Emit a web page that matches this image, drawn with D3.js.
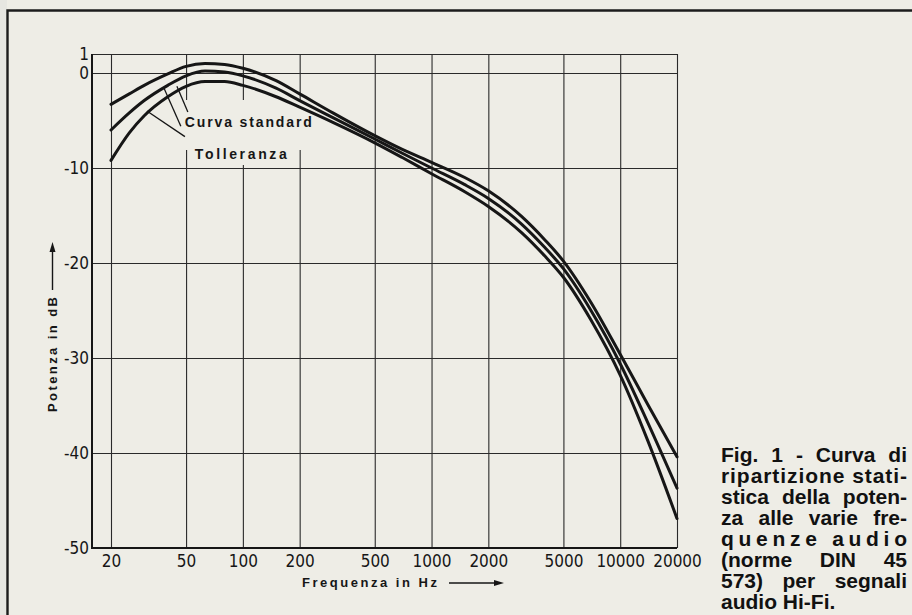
<!DOCTYPE html>
<html>
<head>
<meta charset="utf-8">
<script src="https://cdn.jsdelivr.net/npm/d3@7"></script>
<style>
  html, body { margin: 0; padding: 0; background: #eeede6; }
  svg { display: block; }
</style>
</head>
<body>
<svg id="chart" width="912" height="615"></svg>
<script>
// Frequency points (Hz) at which the three curves are sampled
const freqs = [20, 25, 30, 40, 50, 63, 80, 100, 150, 200, 300, 500, 700, 1000, 1500, 2000, 3000, 4000, 5000, 7000, 10000, 14000, 20000];

// Upper tolerance limit (dB)
const upperTol = [-3.3, -2.2, -1.3, -0.1, 0.7, 1.0, 0.9, 0.5, -0.8, -2.2, -4.2, -6.6, -8.05, -9.4, -11.0, -12.4, -15.1, -17.6, -19.8, -24.15, -29.6, -34.9, -40.4];
// Standard curve (dB)
const standard = [-6.0, -4.2, -2.9, -1.3, -0.3, 0.2, 0.1, -0.3, -1.6, -2.9, -4.7, -6.95, -8.45, -10.0, -11.75, -13.2, -15.9, -18.4, -20.6, -25.0, -30.6, -36.8, -43.7];
// Lower tolerance limit (dB)
const lowerTol = [-9.2, -6.3, -4.5, -2.5, -1.4, -0.9, -0.9, -1.3, -2.5, -3.6, -5.2, -7.35, -8.9, -10.6, -12.5, -14.05, -16.8, -19.3, -21.5, -26.0, -31.8, -38.7, -46.9];

// Axis ticks
const xTickValues = [20, 50, 100, 200, 500, 1000, 2000, 5000, 10000, 20000];
const xTickLabels = ["20", "50", "100", "200", "500", "1000", "2000", "5000", "10000", "20000"];
const yTickValues = [2, 0, -10, -20, -30, -40, -50];
const yTickLabels = ["1", "0", "-10", "-20", "-30", "-40", "-50"];

// Annotation labels: anchor (Hz, dB) and leader lines ending on the curves
const annoLabels = [
  { text: "Curva standard", f: 49.2, v: -5.7, width: 127 },
  { text: "Tolleranza", f: 55.6, v: -9.05, width: 92 }
];
const leaders = [
  { f1: 51.1, v1: -4.1, f2: 44.7, v2: -1.4 },
  { f1: 46.9, v1: -5.6, f2: 38.2, v2: -1.6 },
  { f1: 49.3, v1: -6.7, f2: 31.0, v2: -4.0 }
];

// Caption text, one entry per printed line
const captionLines = [
  "Fig. 1 - Curva di",
  "ripartizione stati-",
  "stica della poten-",
  "za alle varie fre-",
  "quenze audio",
  "(norme DIN 45",
  "573) per segnali",
  "audio Hi-Fi."
];

const ink = "#161616";
const paper = "#eeede6";
const svg = d3.select("#chart");

// Layout
const plotLeft = 92, plotRight = 677, plotTop = 54, plotBottom = 548;

const x = d3.scaleLog().domain([20, 20000]).range([111, plotRight]);
const y = d3.scaleLinear().domain([-50, 2]).range([plotBottom, plotTop]);

// Paper background
svg.append("rect").attr("width", 912).attr("height", 615).attr("fill", paper);
svg.append("rect").attr("x", 0).attr("y", 0).attr("width", 7).attr("height", 615).attr("fill", "#e6e6e1");

// Page frame (top and left rule)
svg.append("path")
  .attr("d", "M7.5,615 V10.5 H912")
  .attr("fill", "none").attr("stroke", "#1c1c1c").attr("stroke-width", 2.4);

const tickFont = sel => sel
  .attr("fill", ink)
  .style("font-family", "'Liberation Sans Narrow', 'DejaVu Sans Condensed', sans-serif")
  .style("font-size", "17px");

// Vertical grid + x tick labels
const xAxis = d3.axisBottom(x)
  .tickValues(xTickValues)
  .tickSize(-(plotBottom - plotTop))
  .tickPadding(7)
  .tickFormat((d, i) => xTickLabels[i]);
const gx = svg.append("g").attr("transform", `translate(0,${plotBottom})`).call(xAxis);
gx.select(".domain").remove();
gx.selectAll(".tick line").attr("stroke", "#2a2a2a").attr("stroke-width", 1.1);
gx.selectAll(".tick text").call(tickFont);

// Horizontal grid + y tick labels
const yAxis = d3.axisLeft(y)
  .tickValues(yTickValues)
  .tickSize(-(plotRight - plotLeft))
  .tickPadding(3)
  .tickFormat((d, i) => yTickLabels[i]);
const gy = svg.append("g").attr("transform", `translate(${plotLeft},0)`).call(yAxis);
gy.select(".domain").remove();
gy.selectAll(".tick line").attr("stroke", "#2a2a2a").attr("stroke-width", 1.1);
gy.selectAll(".tick text").call(tickFont);

// Heavier left and bottom axis lines
svg.append("path")
  .attr("d", `M${plotLeft},${plotTop} V${plotBottom} H${plotRight}`)
  .attr("fill", "none").attr("stroke", ink).attr("stroke-width", 2);

// Clear space behind the annotation labels
svg.append("rect").attr("x", 180).attr("y", 100).attr("width", 138).attr("height", 50).attr("fill", paper);
svg.append("rect").attr("x", 190).attr("y", 148).attr("width", 105).attr("height", 17).attr("fill", paper);

// Curves
const line = d3.line()
  .x(d => x(d.f))
  .y(d => y(d.v))
  .curve(d3.curveMonotoneX);

[upperTol, standard, lowerTol].forEach(series => {
  const pts = freqs.map((f, i) => ({ f, v: series[i] }));
  svg.append("path")
    .attr("d", line(pts))
    .attr("fill", "none")
    .attr("stroke", ink)
    .attr("stroke-width", 3)
    .attr("stroke-linecap", "round")
    .attr("stroke-linejoin", "round");
});

// Leader lines and labels
leaders.forEach(l => {
  svg.append("line")
    .attr("x1", x(l.f1)).attr("y1", y(l.v1))
    .attr("x2", x(l.f2)).attr("y2", y(l.v2))
    .attr("stroke", ink).attr("stroke-width", 1.3);
});
annoLabels.forEach(a => {
  svg.append("text")
    .attr("x", x(a.f)).attr("y", y(a.v))
    .attr("textLength", a.width)
    .attr("lengthAdjust", "spacing")
    .attr("fill", ink)
    .style("font-family", "'Liberation Sans', Arial, sans-serif")
    .style("font-weight", "bold")
    .style("font-size", "14px")
    .text(a.text);
});

// Axis titles with arrows
const titleStyle = sel => sel
  .attr("fill", ink)
  .attr("lengthAdjust", "spacing")
  .style("font-family", "'Liberation Sans', Arial, sans-serif")
  .style("font-weight", "bold")
  .style("font-size", "13px");

svg.append("text")
  .attr("transform", "translate(57,412) rotate(-90)")
  .attr("textLength", 115)
  .call(titleStyle)
  .text("Potenza in dB");
svg.append("line").attr("x1", 52.5).attr("y1", 290).attr("x2", 52.5).attr("y2", 250)
  .attr("stroke", ink).attr("stroke-width", 1.4);
svg.append("path").attr("d", "M52.5,242 L49.5,252 L55.5,252 Z").attr("fill", ink);

svg.append("text")
  .attr("x", 302).attr("y", 587)
  .attr("textLength", 135)
  .call(titleStyle)
  .text("Frequenza in Hz");
svg.append("line").attr("x1", 449).attr("y1", 583).attr("x2", 495).attr("y2", 583)
  .attr("stroke", ink).attr("stroke-width", 1.4);
svg.append("path").attr("d", "M504,583 L494,580 L494,586 Z").attr("fill", ink);

// Justified caption block
const capLeft = 721, capRight = 907, capTop = 462, capLead = 21;
captionLines.forEach((txt, i) => {
  const t = svg.append("text")
    .attr("x", capLeft).attr("y", capTop + i * capLead)
    .attr("fill", "#111")
    .style("font-family", "'Liberation Sans', Arial, sans-serif")
    .style("font-weight", "bold")
    .style("font-size", "21px")
    .text(txt);
  if (i === captionLines.length - 1) return;
  const natural = t.node().getComputedTextLength();
  const extra = (capRight - capLeft) - natural;
  const gaps = txt.split(" ").length - 1;
  if (gaps >= 2) {
    t.style("word-spacing", (extra / gaps) + "px");
  } else {
    t.style("letter-spacing", (extra / (txt.length - 1)) + "px");
  }
});
</script>
</body>
</html>
